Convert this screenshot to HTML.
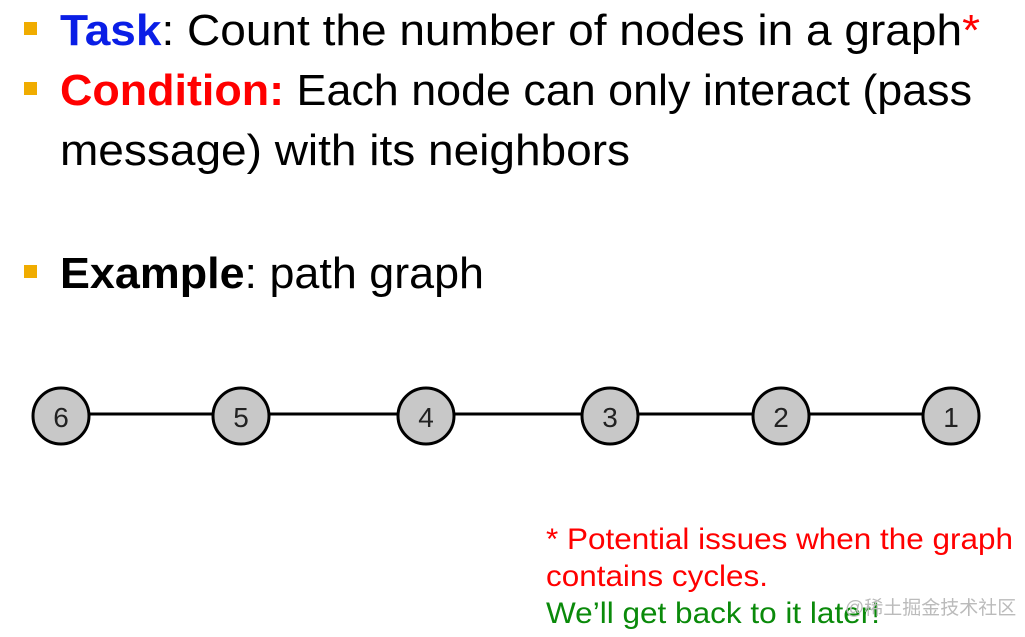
<!DOCTYPE html>
<html><head><meta charset="utf-8"><style>
html,body{margin:0;padding:0;background:#fff;}
svg{display:block}
</style></head><body>
<svg width="1025" height="637" xmlns="http://www.w3.org/2000/svg" font-family="Liberation Sans, Arial, sans-serif">
<rect x="24" y="22" width="13" height="13" fill="#f0ac00"/>
<rect x="24" y="82" width="13" height="13" fill="#f0ac00"/>
<rect x="24" y="265" width="13" height="13" fill="#f0ac00"/>
<text x="60" y="45" font-size="44" textLength="920" lengthAdjust="spacingAndGlyphs"><tspan fill="#0a1ee6" font-weight="bold">Task</tspan><tspan fill="#000">: Count the number of nodes in a graph</tspan><tspan fill="#f00">*</tspan></text>
<text x="60" y="105" font-size="44" textLength="912" lengthAdjust="spacingAndGlyphs"><tspan fill="#f00" font-weight="bold">Condition:</tspan><tspan fill="#000"> Each node can only interact (pass</tspan></text>
<text x="60" y="165" font-size="44" fill="#000" textLength="570" lengthAdjust="spacingAndGlyphs">message) with its neighbors</text>
<text x="60" y="288" font-size="44" textLength="424" lengthAdjust="spacingAndGlyphs"><tspan font-weight="bold">Example</tspan>: path graph</text>
<line x1="61" y1="414" x2="951" y2="414" stroke="#000" stroke-width="3"/>
<g fill="#c8c8c8" stroke="#000" stroke-width="3">
<circle cx="61" cy="416" r="28"/><circle cx="241" cy="416" r="28"/><circle cx="426" cy="416" r="28"/>
<circle cx="610" cy="416" r="28"/><circle cx="781" cy="416" r="28"/><circle cx="951" cy="416" r="28"/>
</g>
<g font-size="28" text-anchor="middle" fill="#222">
<text x="61" y="427">6</text><text x="241" y="427">5</text><text x="426" y="427">4</text>
<text x="610" y="427">3</text><text x="781" y="427">2</text><text x="951" y="427">1</text>
</g>
<text x="546" y="549" font-size="30" fill="#f00" textLength="467" lengthAdjust="spacingAndGlyphs">* Potential issues when the graph</text>
<text x="546" y="586" font-size="30" fill="#f00" textLength="222" lengthAdjust="spacingAndGlyphs">contains cycles.</text>
<text x="546" y="623" font-size="30" fill="#0a8a0a" textLength="334" lengthAdjust="spacingAndGlyphs">We’ll get back to it later!</text>
<text x="845" y="614" font-size="19" fill="#bbb" font-family="Liberation Sans, Noto Sans CJK SC, sans-serif">@稀土掘金技术社区</text>
</svg>
</body></html>
